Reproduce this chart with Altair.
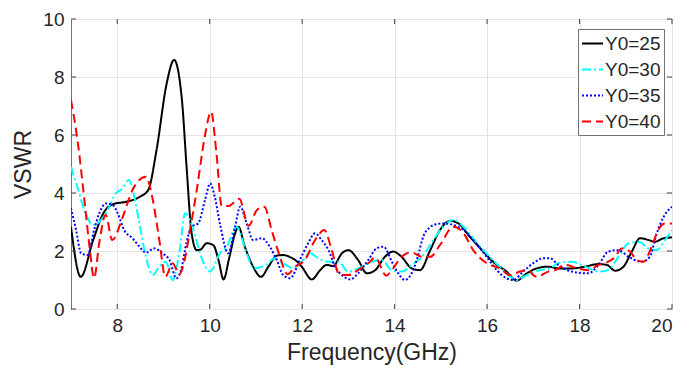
import altair as alt
import pandas as pd

# ---- data ----
series_names = ["Y0=25", "Y0=30", "Y0=35", "Y0=40"]

f25 = [7.0, 7.21, 7.48, 7.70, 7.92, 8.2, 8.49, 8.67, 8.85, 9.07, 9.23, 9.4, 9.5, 9.61, 9.72, 9.8,
       9.94, 10.08, 10.19, 10.3, 10.42, 10.55, 10.62, 10.76, 10.94, 11.11, 11.27, 11.45, 11.6, 11.75,
       11.85, 11.99, 12.21, 12.39, 12.53, 12.67, 12.86, 13.0, 13.21, 13.4, 13.58, 13.79, 13.97, 14.15,
       14.37, 14.55, 14.77, 14.98, 15.2, 15.38, 15.63, 15.92, 16.13, 16.42, 16.64, 16.86, 17.07, 17.32,
       17.54, 17.83, 18.12, 18.41, 18.59, 18.77, 18.95, 19.13, 19.31, 19.49, 19.63, 19.82, 20.0]
v25 = [2.83, 1.11, 2.38, 3.3, 3.62, 3.7, 3.87, 4.1, 5.48, 7.78, 8.59, 7.2, 4.9, 2.6, 2.03, 2.05,
       2.27, 2.2, 1.69, 1.02, 1.75, 2.61, 2.84, 2.15, 1.46, 1.11, 1.46, 1.84, 1.86, 1.78,
       1.69, 1.46, 1.02, 1.34, 1.52, 1.48, 1.92, 2.03, 1.69, 1.23, 1.34, 1.8, 1.98, 1.8,
       1.4, 1.34, 2.03, 2.72, 3.04, 2.95, 2.49, 1.98, 1.63, 1.29, 0.98, 1.23, 1.4, 1.46,
       1.4, 1.4, 1.46, 1.55, 1.52, 1.32, 1.46, 1.98, 2.44, 2.38, 2.32, 2.44, 2.47]

f30 = [7.0, 7.14, 7.29, 7.47, 7.61, 7.79, 7.97, 8.12, 8.25, 8.37, 8.48, 8.62, 8.77, 8.91, 9.05, 9.2,
       9.34, 9.47, 9.65, 9.79, 10.01, 10.22, 10.37, 10.58, 10.8, 10.95, 11.2, 11.41, 11.59, 11.81,
       11.99, 12.17, 12.35, 12.57, 12.78, 13.0, 13.21, 13.5, 13.72, 13.94, 14.15, 14.37, 14.59, 14.84,
       15.05, 15.27, 15.49, 15.78, 16.06, 16.35, 16.64, 16.86, 17.15, 17.36, 17.54, 17.83, 18.12, 18.41,
       18.62, 18.84, 19.06, 19.28, 19.49, 19.67, 19.85, 20.0]
v30 = [4.9, 4.2, 3.41, 2.9, 3.0, 3.41, 3.99, 4.16, 4.45, 3.87, 2.95, 1.8, 1.17, 1.46, 1.63, 1.0,
       1.92, 3.3, 2.72, 1.92, 1.29, 1.92, 2.15, 2.84, 1.92, 1.4, 1.5, 1.75, 1.58, 1.4,
       1.63, 1.92, 1.75, 1.63, 1.63, 1.29, 1.4, 1.63, 1.69, 1.34, 1.29, 1.52, 1.8, 2.38,
       2.84, 3.07, 2.84, 2.27, 1.8, 1.34, 1.0, 1.17, 1.34, 1.4, 1.58, 1.63, 1.46, 1.29,
       1.34, 1.8, 2.27, 2.32, 2.09, 2.03, 2.38, 2.72]

f35 = [7.0, 7.11, 7.22, 7.36, 7.5, 7.61, 7.76, 7.9, 8.01, 8.15, 8.33, 8.48, 8.62, 8.8, 8.98, 9.13,
       9.28, 9.38, 9.5, 9.61, 9.75, 9.9, 10.01, 10.11, 10.22, 10.4, 10.55, 10.66, 10.8, 10.94,
       11.13, 11.3, 11.45, 11.59, 11.74, 11.95, 12.13, 12.28, 12.42, 12.57, 12.71, 12.86, 13.04, 13.21,
       13.43, 13.61, 13.76, 13.94, 14.08, 14.22, 14.4, 14.5, 14.62, 14.75, 14.9, 15.05, 15.27, 15.49,
       15.7, 15.99, 16.21, 16.42, 16.57, 16.78, 17.0, 17.22, 17.36, 17.54, 17.83, 18.19, 18.41, 18.62,
       18.84, 19.06, 19.35, 19.52, 19.67, 19.82, 20.0]
v35 = [3.47, 2.72, 1.92, 1.86, 2.72, 3.3, 3.64, 3.59, 3.3, 2.72, 2.44, 2.15, 1.94, 2.09, 1.92, 1.69,
       1.06, 1.34, 2.3, 2.84, 2.95, 3.76, 4.33, 3.87, 2.95, 1.92, 2.84, 3.53, 2.95, 2.38,
       2.44, 2.15, 1.69, 1.17, 1.06, 1.69, 2.27, 2.61, 2.38, 2.03, 1.46, 1.17, 1.02, 1.23,
       1.69, 2.09, 2.15, 1.63, 1.23, 1.0, 1.34, 1.8, 2.5, 2.8, 2.92, 2.95, 2.9, 2.72,
       2.38, 1.8, 1.34, 1.06, 1.0, 1.29, 1.58, 1.75, 1.75, 1.52, 1.29, 1.23, 1.52, 1.98,
       2.03, 1.8, 1.63, 1.8, 2.61, 3.18, 3.53]

f40 = [7.0, 7.14, 7.29, 7.4, 7.5, 7.61, 7.75, 7.89, 8.12, 8.33, 8.62, 8.77, 8.91, 9.04, 9.2, 9.34,
       9.45, 9.55, 9.72, 9.9, 10.03, 10.15, 10.26, 10.4, 10.64, 10.84, 11.02, 11.18, 11.34, 11.52,
       11.68, 11.85, 12.06, 12.28, 12.48, 12.64, 12.8, 13.0, 13.21, 13.43, 13.58, 13.82, 13.94, 14.15,
       14.37, 14.59, 14.77, 14.98, 15.27, 15.49, 15.7, 15.99, 16.28, 16.5, 16.71, 16.86, 17.07, 17.32,
       17.47, 17.69, 17.97, 18.19, 18.41, 18.62, 18.77, 18.91, 19.09, 19.24, 19.38, 19.56, 19.7, 19.85,
       20.0]
v40 = [7.2, 5.83, 3.76, 2.15, 1.07, 2.27, 3.25, 2.38, 3.18, 4.1, 4.56, 3.76, 2.38, 1.11, 1.58, 1.2,
       1.63, 2.5, 4.1, 6.0, 6.8, 5.3, 3.55, 3.55, 3.8, 2.87, 3.41, 3.53, 2.72, 1.8,
       1.2, 1.46, 1.69, 2.38, 2.72, 2.03, 1.2, 1.17, 1.34, 1.58, 1.77, 1.15, 1.34, 1.8,
       1.95, 1.8, 1.8, 2.2, 2.84, 2.61, 2.03, 1.58, 1.4, 1.17, 1.29, 1.34, 1.11, 1.29,
       1.34, 1.52, 1.4, 1.34, 1.52, 1.63, 1.8, 2.09, 1.98, 1.69, 1.63, 2.15, 2.72, 2.95,
       2.95]

x_ticks = [8, 10, 12, 14, 16, 18, 20]
y_ticks = [0, 2, 4, 6, 8, 10]

colors = ["#000000", "#00FFFF", "#0000FF", "#FF0000"]
dashes = [[1, 0], [9, 3, 2, 3], [2, 2], [9, 5]]

rows = []
for name, fs, vs in zip(series_names, [f25, f30, f35, f40], [v25, v30, v35, v40]):
    for i, (f, v) in enumerate(zip(fs, vs)):
        rows.append({"series": name, "freq": f, "vswr": v, "order": i})
df = pd.DataFrame(rows)
xt = pd.DataFrame({"t": x_ticks})
yt = pd.DataFrame({"t": y_ticks})

FONT = "Liberation Sans"
TXT = "#262626"
W, H = 601, 290

xscale = alt.Scale(domain=[7, 20], nice=False, zero=False)
yscale = alt.Scale(domain=[0, 10], nice=False)

lines = alt.Chart(df).mark_line(strokeWidth=2, interpolate="monotone", clip=True).encode(
    x=alt.X("freq:Q", scale=xscale,
            axis=alt.Axis(values=x_ticks, title="Frequency(GHz)", titleX=W / 2, titleY=43,
                          titleBaseline="middle", titleAlign="center", labelPadding=7)),
    y=alt.Y("vswr:Q", scale=yscale,
            axis=alt.Axis(values=y_ticks, title="VSWR", titleX=-48, titleY=H / 2, titleAngle=270,
                          titleBaseline="middle", titleAlign="center", labelPadding=7)),
    color=alt.Color("series:N", scale=alt.Scale(domain=series_names, range=colors),
                    legend=alt.Legend(title=None)),
    strokeDash=alt.StrokeDash("series:N", scale=alt.Scale(domain=series_names, range=dashes),
                              legend=alt.Legend(title=None)),
    order="order:Q",
)

tick_color = "#404040"
bt = alt.Chart(xt).mark_rule(color=tick_color, strokeWidth=1).encode(
    x=alt.X("t:Q", scale=xscale), y=alt.value(H), y2=alt.value(H - 5))
tt = alt.Chart(xt).mark_rule(color=tick_color, strokeWidth=1).encode(
    x=alt.X("t:Q", scale=xscale), y=alt.value(0), y2=alt.value(5))
lt = alt.Chart(yt).mark_rule(color=tick_color, strokeWidth=1).encode(
    y=alt.Y("t:Q", scale=yscale), x=alt.value(0), x2=alt.value(5))
rt = alt.Chart(yt).mark_rule(color=tick_color, strokeWidth=1).encode(
    y=alt.Y("t:Q", scale=yscale), x=alt.value(W), x2=alt.value(W - 5))

chart = alt.layer(lines, bt, tt, lt, rt).properties(
    width=W, height=H,
    autosize=alt.AutoSizeParams(type="none"),
    padding={"left": 63, "top": 11, "right": 16, "bottom": 59},
).configure_view(
    stroke="#707070", strokeWidth=1
).configure_axis(
    domain=False, ticks=False, grid=True, gridColor="#e4e4e4", gridWidth=1,
    labelFont=FONT, labelFontSize=19, labelColor=TXT,
    titleFont=FONT, titleFontSize=23, titleFontWeight="normal", titleColor=TXT,
).configure_legend(
    orient="none", legendX=507, legendY=10,
    fillColor="white", strokeColor="#707070", padding=3,
    symbolType="stroke", symbolSize=441, symbolStrokeWidth=2,
    labelFont=FONT, labelFontSize=19, labelColor=TXT, labelOffset=1,
    rowPadding=4,
)

chart.save("out.html", embed_options={"renderer": "svg", "actions": False})
